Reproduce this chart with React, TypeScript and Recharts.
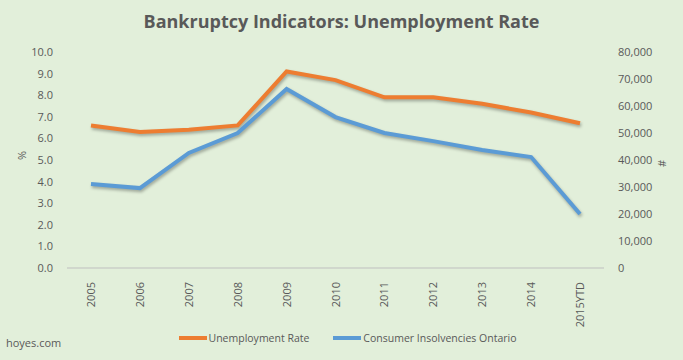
import { LineChart, Line, XAxis, YAxis } from 'recharts';

// Données
const years = ['2005', '2006', '2007', '2008', '2009', '2010', '2011', '2012', '2013', '2014', '2015YTD'];
const unemploymentRate = [6.6, 6.3, 6.4, 6.6, 9.1, 8.7, 7.9, 7.9, 7.6, 7.2, 6.7];
const insolvencies = [31100, 29600, 42600, 50000, 66300, 55900, 50000, 47000, 43700, 41100, 20000];
const leftTicks = [0, 1, 2, 3, 4, 5, 6, 7, 8, 9, 10];
const rightTicks = [0, 10000, 20000, 30000, 40000, 50000, 60000, 70000, 80000];

const data = years.map((y, i) => ({ name: y, rate: unemploymentRate[i], insolv: insolvencies[i] }));

const FONT = '"Open Sans", "Noto Sans", sans-serif';
const TXT = '#595959';
const ORANGE = '#ED7D31';
const BLUE = '#5B9BD5';
const SHADOW = 'drop-shadow(1px 2px 1.5px rgba(0,0,0,0.3))';

// étiquettes verticales de l'axe X
function YearTick(props: any) {
    const { x, y, payload } = props;
    return (
        <text x={x} y={y + 6} transform={`rotate(-90 ${x} ${y + 6})`} dy={4}
            textAnchor="end" fill={TXT} fontSize={11} fontFamily={FONT}>
            {payload.value}
        </text>
    );
}

const legendItems = [
    { label: 'Unemployment Rate', color: ORANGE },
    { label: 'Consumer Insolvencies Ontario', color: BLUE },
];

export default function App() {
    return (
        <div style={{ position: 'fixed', top: 0, left: 0, width: 683, height: 360, background: '#E2EFDA', fontFamily: FONT }}>
            <div style={{ position: 'absolute', top: 9, left: 0, width: 683, textAlign: 'center', fontSize: 18, fontWeight: 'bold', color: TXT }}>
                Bankruptcy  Indicators:  Unemployment  Rate
            </div>
            <div style={{ position: 'absolute', left: 6, top: 335, fontSize: 11, color: TXT }}>hoyes.com</div>
            <div style={{ position: 'absolute', top: 331, left: 6, width: 683, display: 'flex', justifyContent: 'center', gap: 24, fontSize: 10.5, color: TXT }}>
                {legendItems.map((it) => (
                    <div key={it.label} style={{ display: 'flex', alignItems: 'center' }}>
                        <span style={{ display: 'inline-block', width: 28, height: 4, background: it.color, marginRight: 2 }} />
                        {it.label}
                    </div>
                ))}
            </div>
            <LineChart width={683} height={360} data={data} margin={{ top: 52, right: 0, bottom: 0, left: 0 }}
                style={{ position: 'absolute', top: 0, left: 0 }}>
                <XAxis xAxisId="x" dataKey="name" interval={0} tickLine={false} axisLine={{ stroke: '#BFBFBF' }}
                    tick={<YearTick />} padding={{ left: 24, right: 24 }} height={92} />
                <YAxis yAxisId="left" orientation="left" width={67} domain={[0, 10]} ticks={leftTicks}
                    tickFormatter={(v: number) => v.toFixed(1)} axisLine={false} tickLine={false}
                    tick={{ fill: TXT, fontSize: 11, fontFamily: FONT }} tickMargin={8}
                    label={{ value: '%', angle: -90, position: 'insideLeft', offset: 22, fill: TXT, fontSize: 11 }} />
                <YAxis yAxisId="right" orientation="right" width={79} domain={[0, 80000]} ticks={rightTicks}
                    tickFormatter={(v: number) => v.toLocaleString('en-US')} axisLine={false} tickLine={false}
                    tick={{ fill: TXT, fontSize: 11, fontFamily: FONT, textAnchor: 'start' }} tickMargin={8}
                    label={{ value: '#', angle: -90, position: 'insideRight', offset: 21, fill: TXT, fontSize: 11 }} />
                <Line xAxisId="x" yAxisId="left" type="linear" dataKey="rate" name="Unemployment Rate" stroke={ORANGE}
                    strokeWidth={4} dot={false} isAnimationActive={false} style={{ filter: SHADOW }} />
                <Line xAxisId="x" yAxisId="right" type="linear" dataKey="insolv" name="Consumer Insolvencies Ontario" stroke={BLUE}
                    strokeWidth={4} dot={false} isAnimationActive={false} style={{ filter: SHADOW }} />
            </LineChart>
        </div>
    );
}
